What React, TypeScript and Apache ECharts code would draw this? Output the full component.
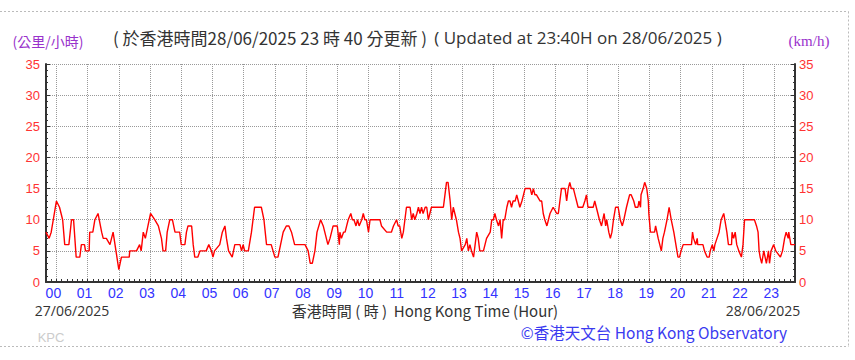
import React, { useEffect, useRef } from 'react';
import * as echarts from 'echarts';

// minutes from 00:00 on 28/06/2025 (negative = 27/06/2025)
const minutes = [
  -20, -14, -10, 0, 6, 12, 16, 24, 29, 33, 38, 45, 48, 54, 56, 63, 64, 70, 74, 80, 87, 90, 96, 103, 109,
  120, 125, 140, 141, 154, 160, 163, 167, 171, 176, 181, 189, 196, 202, 205, 210, 213, 218, 223, 228, 237,
  240, 247, 250, 253, 260, 263, 266, 272, 276, 288, 293, 298, 301, 304, 314, 319, 324, 327, 331, 338, 343,
  353, 356, 359, 362, 369, 375, 381, 394, 399, 404, 413, 420, 426, 431, 436, 442, 447, 452, 458, 478, 484,
  488, 492, 497, 501, 508, 513, 516, 522, 526, 532, 540, 544, 545, 548, 552, 555, 558, 561, 566, 569, 572,
  576, 579, 582, 587, 590, 593, 596, 600, 603, 606, 622, 625, 635, 644, 648, 654, 657, 660, 664, 667, 670,
  673, 680, 683, 686, 689, 693, 696, 699, 702, 705, 709, 712, 715, 718, 721, 744, 747, 750, 753, 757, 760,
  763, 769, 773, 776, 779, 786, 789, 792, 795, 798, 802, 805, 808, 811, 814, 821, 824, 827, 834, 837, 840,
  843, 846, 850, 853, 856, 859, 862, 866, 869, 872, 875, 878, 882, 885, 888, 891, 895, 898, 901, 911, 914,
  917, 920, 923, 930, 933, 936, 939, 943, 946, 949, 955, 962, 965, 968, 971, 978, 981, 984, 987, 990, 994,
  997, 1000, 1003, 1006, 1012, 1016, 1019, 1022, 1032, 1035, 1038, 1044, 1048, 1053, 1056, 1058, 1062, 1065,
  1068, 1071, 1075, 1080, 1082, 1084, 1088, 1091, 1096, 1099, 1102, 1105, 1110, 1113, 1118, 1120, 1123, 1124,
  1128, 1131, 1135, 1138, 1139, 1142, 1150, 1152, 1157, 1160, 1163, 1166, 1169, 1174, 1178, 1182, 1187, 1191,
  1195, 1198, 1201, 1205, 1221, 1223, 1225, 1229, 1232, 1233, 1243, 1246, 1251, 1255, 1257, 1261, 1264, 1266,
  1270, 1274, 1278, 1283, 1285, 1289, 1292, 1298, 1299, 1302, 1305, 1308, 1312, 1317, 1320, 1323, 1342, 1346,
  1349, 1351, 1353, 1356, 1360, 1365, 1369, 1371, 1374, 1379, 1383, 1392, 1396, 1400, 1403, 1407, 1408, 1412,
  1420,
];

// 10-minute mean wind speed (km/h)
const speeds = [
  8, 7, 8, 13, 12, 10, 6, 6, 10, 10, 4, 4, 6, 6, 5, 5, 8, 8, 10, 11, 8, 7, 7, 6, 8,
  2, 4, 4, 5, 5, 6, 5, 8, 7, 9, 11, 10, 9, 7, 5, 5, 8, 10, 10, 8, 8,
  6, 6, 8, 9, 9, 6, 4, 4, 5, 5, 6, 5, 4, 5, 6, 8, 9, 7, 5, 4, 6,
  6, 5, 6, 5, 5, 8, 12, 12, 10, 6, 6, 4, 4, 6, 8, 9, 9, 8, 6, 6, 5,
  3, 3, 5, 8, 10, 9, 8, 6, 7, 9, 9, 6, 8, 7, 8, 8, 9, 10, 11, 10, 10,
  9, 10, 9, 10, 11, 10, 10, 8, 10, 10, 10, 9, 8, 8, 9, 10, 9, 9, 7, 8, 10,
  12, 12, 10, 11, 10, 11, 12, 11, 12, 11, 12, 12, 10, 11, 12, 12, 14, 16, 16, 13, 10,
  12, 10, 8, 7, 5, 6, 7, 5, 6, 5, 4, 6, 8, 7, 5, 5, 6, 7, 8, 10, 10,
  11, 10, 9, 10, 7, 10, 10, 12, 13, 13, 12, 13, 13, 14, 13, 12, 13, 14, 15, 15, 14,
  15, 14, 14, 13, 13, 11, 10, 9, 10, 11, 12, 11, 11, 13, 15, 15, 13, 15, 16, 15, 15,
  14, 13, 12, 12, 12, 13, 14, 12, 12, 13, 12, 10, 9, 11, 9, 10, 8, 7,
  8, 10, 12, 12, 11, 10, 9, 10, 12, 13, 14, 14, 13, 12, 12, 13, 12, 14,
  15, 16, 15, 13, 11, 8, 8, 9, 7, 6, 5, 7, 8, 10, 12, 10, 8, 6,
  4, 4, 5, 6, 6, 8, 7, 6, 7, 6, 6, 5, 4, 4, 5, 6, 5, 6,
  7, 8, 10, 11, 10, 8, 6, 6, 8, 7, 8, 6, 5, 4, 6, 10, 10, 9,
  8, 5, 4, 3, 5, 3, 5, 3, 5, 6, 5, 4, 5, 7, 8, 7, 8, 6,
  6,
];

const hourLabels = [
  '00', '01', '02', '03', '04', '05', '06', '07', '08', '09', '10', '11',
  '12', '13', '14', '15', '16', '17', '18', '19', '20', '21', '22', '23',
];

const axisStart = -20;
const axisEnd = 1420;
const slots: string[] = [];
for (let m = axisStart; m <= axisEnd; m += 10) slots.push(String(m));

const isHour = (_i: number, v: string) => Number(v) % 60 === 0 && Number(v) >= 0;

export default function App() {
  const ref = useRef<HTMLDivElement>(null);
  useEffect(() => {
    const chart = echarts.init(ref.current!, null, { renderer: 'svg' });
    const axisColor = '#333';
    const gridLine = { show: true, lineStyle: { type: 'dotted' as const, color: '#999', width: 1 } };
    const yCommon = {
      type: 'value' as const,
      min: 0,
      max: 35,
      interval: 5,
      axisLine: { show: true, onZero: false, lineStyle: { color: axisColor, width: 2 } },
      axisTick: { show: true, inside: true, length: 4, lineStyle: { color: axisColor } },
      minorTick: { show: true, splitNumber: 5, length: 2, lineStyle: { color: axisColor } },
      axisLabel: { color: '#ff3333', fontSize: 13, fontFamily: 'Liberation Sans' },
    };
    chart.setOption({
      animation: false,
      backgroundColor: '#fff',
      grid: { left: 46, right: 60, top: 64, bottom: 78, containLabel: false },
      xAxis: [
        {
          type: 'category',
          data: slots,
          boundaryGap: false,
          position: 'bottom',
          axisLine: { show: true, lineStyle: { color: axisColor, width: 2 } },
          axisTick: { show: true, inside: true, length: 3, interval: 0, lineStyle: { color: axisColor } },
          axisLabel: {
            interval: isHour,
            formatter: (v: string) => hourLabels[Number(v) / 60] ?? '',
            color: '#3333ff',
            fontSize: 14,
            fontFamily: 'Liberation Sans',
            margin: 4,
            padding: [0, 6, 0, 0],
          },
          splitLine: { ...gridLine, interval: isHour },
        },
        { type: 'value', min: axisStart, max: axisEnd, show: false },
      ],
      yAxis: [
        { ...yCommon, position: 'left', axisLabel: { ...yCommon.axisLabel, margin: 6 }, splitLine: gridLine },
        { ...yCommon, position: 'right', axisLabel: { ...yCommon.axisLabel, margin: 4 }, splitLine: { show: false } },
      ],
      series: [
        {
          type: 'line',
          xAxisIndex: 1,
          yAxisIndex: 0,
          data: minutes.map((m, i) => [m, speeds[i]]),
          showSymbol: false,
          symbol: 'none',
          lineStyle: { color: '#ff0000', width: 1.4 },
        },
      ],
      graphic: [
        { type: 'line', shape: { x1: 0, y1: 11.5, x2: 848.5, y2: 11.5 }, style: { stroke: '#bbb', lineDash: [2, 2], lineWidth: 1 } },
        { type: 'line', shape: { x1: 848.5, y1: 11.5, x2: 848.5, y2: 346.5 }, style: { stroke: '#bbb', lineDash: [2, 2], lineWidth: 1 } },
        { type: 'line', shape: { x1: 0, y1: 346.5, x2: 848.5, y2: 346.5 }, style: { stroke: '#bbb', lineDash: [2, 2], lineWidth: 1 } },
        { type: 'text', x: 48, y: 41, style: { text: '(公里/小時)', fill: '#9932cc', font: '14px "Noto Sans CJK TC"', textAlign: 'center', textVerticalAlign: 'middle' } },
        { type: 'text', x: 270, y: 37, style: { text: '( 於香港時間28/06/2025 23 時 40 分更新 )', fill: '#333', font: '17px "Noto Sans CJK TC"', textAlign: 'center', textVerticalAlign: 'middle' } },
        { type: 'text', x: 578, y: 37, style: { text: '( Updated at 23:40H on 28/06/2025 )', fill: '#333', font: '17px "Open Sans"', textAlign: 'center', textVerticalAlign: 'middle' } },
        { type: 'text', x: 809, y: 41, style: { text: '(km/h)', fill: '#9932cc', font: '15px "Liberation Serif"', textAlign: 'center', textVerticalAlign: 'middle' } },
        { type: 'text', x: 72, y: 310, style: { text: '27/06/2025', fill: '#333', font: '14px "Open Sans"', textAlign: 'center', textVerticalAlign: 'middle' } },
        { type: 'text', x: 425, y: 310, style: { text: '香港時間 ( 時 )  Hong Kong Time (Hour)', fill: '#333', font: '15px "Noto Sans CJK TC"', textAlign: 'center', textVerticalAlign: 'middle' } },
        { type: 'text', x: 763, y: 310, style: { text: '28/06/2025', fill: '#333', font: '14px "Open Sans"', textAlign: 'center', textVerticalAlign: 'middle' } },
        { type: 'text', x: 654, y: 332, style: { text: '©香港天文台 Hong Kong Observatory', fill: '#3a3af0', font: '15.5px "Noto Sans CJK TC"', textAlign: 'center', textVerticalAlign: 'middle' } },
        { type: 'text', x: 51, y: 337, style: { text: 'KPC', fill: '#ccc', font: '13px "Liberation Sans"', textAlign: 'center', textVerticalAlign: 'middle' } },
      ],
    });
    return () => chart.dispose();
  }, []);
  return (
    <div
      ref={ref}
      style={{ position: 'absolute', left: 0, top: 0, width: 855, height: 360, background: '#fff' }}
    />
  );
}
